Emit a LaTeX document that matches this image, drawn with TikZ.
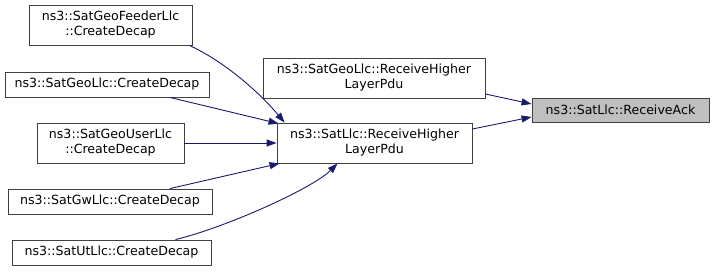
\documentclass[tikz,border=0pt]{standalone}
\usepackage{fontspec}
\setmainfont{DejaVu Sans}
\usetikzlibrary{arrows.meta}
\definecolor{edgeblue}{HTML}{191970}
\definecolor{boxline}{HTML}{404040}
\definecolor{hilite}{HTML}{BFBFBF}
\begin{document}
\begin{tikzpicture}[x=1pt,y=-1pt,
  fn/.style={draw=boxline,line width=0.9pt,fill=white,inner sep=0pt,align=center,
    font=\fontsize{12.6}{15}\selectfont},
  cur/.style={fn,fill=hilite},
  call/.style={draw=edgeblue,line width=0.9pt,-{Triangle[length=10pt,width=7pt]},fill=none},
]
\useasboundingbox (0,0) rectangle (715,271);

% callers of the higher-layer receive
\node[fn,minimum width=163pt,minimum height=40pt] (feeder) at (110.5,25) {ns3::SatGeoFeederLlc\\::CreateDecap};
\node[fn,minimum width=204pt,minimum height=25pt] (geollc) at (107,84.5) {ns3::SatGeoLlc::CreateDecap};
\node[fn,minimum width=147pt,minimum height=40pt] (geouser) at (110.5,143) {ns3::SatGeoUserLlc\\::CreateDecap};
\node[fn,minimum width=204pt,minimum height=25pt] (gwllc) at (110,201.5) {ns3::SatGwLlc::CreateDecap};
\node[fn,minimum width=199pt,minimum height=25pt] (utllc) at (111.5,252.5) {ns3::SatUtLlc::CreateDecap};

% direct callers of ReceiveAck
\node[fn,minimum width=222pt,minimum height=40pt] (georhl) at (374,78) {ns3::SatGeoLlc::ReceiveHigher\\LayerPdu};
\node[fn,minimum width=195pt,minimum height=40pt] (satrhl) at (374.5,143) {ns3::SatLlc::ReceiveHigher\\LayerPdu};

% the function itself
\node[cur,minimum width=177pt,minimum height=24pt] (ack) at (620.5,110) {ns3::SatLlc::ReceiveAck};

% call edges
\draw[call] ([xshift=-3pt]feeder.south east) .. controls +(35,16) and +(-25,-30) .. ([xshift=8pt]satrhl.north west);
\draw[call] ([xshift=63pt]geollc.south) -- ([xshift=2pt,yshift=-1pt]satrhl.north west);
\draw[call] (geouser.east) -- (satrhl.west);
\draw[call] ([xshift=60pt]gwllc.north) -- ([xshift=3pt]satrhl.south west);
\draw[call] ([xshift=64pt]utllc.north) .. controls +(50,-12) and +(-25,25) .. ([xshift=-37pt]satrhl.south);
\draw[call] ([yshift=-16pt]georhl.east) -- ([yshift=6pt]ack.west);
\draw[call] ([yshift=14pt]satrhl.east) -- ([yshift=-7pt]ack.west);
\end{tikzpicture}
\end{document}
